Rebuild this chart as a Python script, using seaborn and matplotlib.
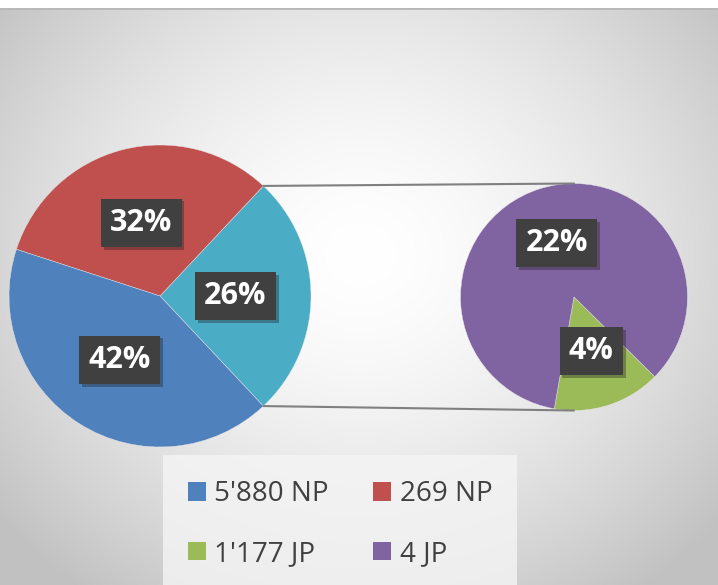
import matplotlib.pyplot as plt
import matplotlib.patheffects as pe
import numpy as np
import seaborn as sns
from matplotlib.patches import ConnectionPatch, Patch

# chart data
categories = ["5'880 NP", "269 NP", "1'177 JP", "4 JP"]
shares = [42, 32, 4, 22]          # percent of total
colors = ['#4f81bd', '#c0504d', '#9bbb59', '#8064a2']
other_color = '#4bacc6'

sns.set_theme(style='white')
plt.rcParams['font.family'] = ['Open Sans', 'DejaVu Sans']

W, H = 718, 585
fig = plt.figure(figsize=(W / 100, H / 100), dpi=100)

# background: radial grey gradient, white strip at top
bg = fig.add_axes([0, 0, 1, 1 - 8 / H])
yy, xx = np.mgrid[0:H, 0:W]
d = np.hypot(xx - 360, (yy - 250) * 1.1) / 440
shade = np.clip(1 - 0.22 * d ** 1.6, 0.76, 1)
bg.imshow(np.dstack([shade] * 3), extent=[0, 1, 0, 1], aspect='auto')
bg.axhline(1, color='#b8b8b8', lw=2)
bg.set_axis_off()


def box_label(texts):
    for t in texts:
        t.set_color('white')
        t.set_fontweight('bold')
        t.set_fontsize(22)
        t.set_bbox(dict(boxstyle='square,pad=0.3', facecolor='#404040', edgecolor='none'))
        t.get_bbox_patch().set_path_effects(
            [pe.SimplePatchShadow(offset=(2, -2), shadow_rgbFace='k', alpha=0.35), pe.Normal()])


# main pie: two largest categories + "other"
other = shares[2] + shares[3]
main_vals = [other, shares[1], shares[0]]
main_cols = [other_color, colors[1], colors[0]]
cx, cy, r = 160, 296, 151
ax1 = fig.add_axes([(cx - r) / W, (H - cy - r) / H, 2 * r / W, 2 * r / H])
start = -other / sum(shares) * 180
w1, _, t1 = ax1.pie(main_vals, colors=main_cols, startangle=start, counterclock=True,
                    autopct='%d%%', pctdistance=0.5, radius=1,
                    wedgeprops=dict(edgecolor='#e8e8e8', linewidth=0.3))
box_label(t1)
ax1.set_xlim(-1, 1)
ax1.set_ylim(-1, 1)

# secondary pie: split of "other"
sx, sy, sr = 574, 297, 113.5
ax2 = fig.add_axes([(sx - sr) / W, (H - sy - sr) / H, 2 * sr / W, 2 * sr / H])
sec_vals = [shares[2], shares[3]]
w2, _, t2 = ax2.pie(sec_vals, colors=[colors[2], colors[3]], startangle=-100,
                    autopct=lambda p: '%d%%' % round(p * other / 100),
                    pctdistance=0.5, radius=1,
                    wedgeprops=dict(edgecolor='#e8e8e8', linewidth=0.3))
box_label(t2)
ax2.set_xlim(-1, 1)
ax2.set_ylim(-1, 1)

# connector lines
th1, th2 = np.deg2rad(w1[0].theta1), np.deg2rad(w1[0].theta2)
for th, ysec in [(th2, 1), (th1, -1)]:
    con = ConnectionPatch(xyA=(np.cos(th), np.sin(th)), coordsA=ax1.transData,
                          xyB=(0, ysec), coordsB=ax2.transData,
                          color='#808080', lw=1.5)
    fig.add_artist(con)

# legend
handles = [Patch(facecolor=c, edgecolor='none') for c in colors]
order = [0, 2, 1, 3]
leg = fig.legend([handles[i] for i in order], [categories[i] for i in order],
                 loc='center', bbox_to_anchor=(340 / W, 1 - 524 / H), ncol=2,
                 fontsize=20, frameon=True, fancybox=False,
                 handlelength=0.65, handleheight=0.65, handletextpad=0.3,
                 columnspacing=1.6, labelspacing=1.15, borderpad=0.9)
leg.get_frame().set_facecolor('#f5f5f5')
leg.get_frame().set_edgecolor('none')
for t in leg.get_texts():
    t.set_color('#404040')

fig.savefig('out.png', dpi=100)
